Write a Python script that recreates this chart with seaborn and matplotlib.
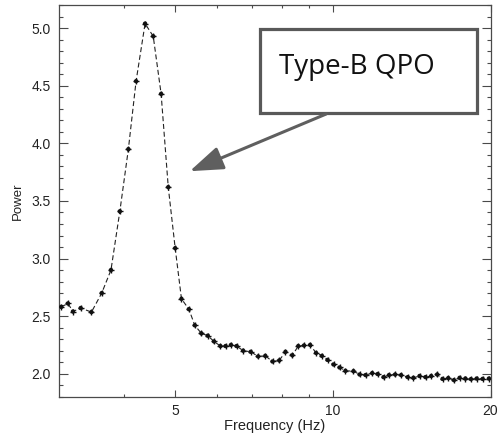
import numpy as np
import pandas as pd
import matplotlib
matplotlib.use("Agg")
import matplotlib.pyplot as plt
from matplotlib.patches import Rectangle
from matplotlib.ticker import FixedLocator, FixedFormatter, MultipleLocator, NullFormatter
import seaborn as sns

freq = [3.03, 3.12, 3.19, 3.30, 3.46, 3.62, 3.77, 3.92, 4.07, 4.21, 4.38, 4.54, 4.70, 4.85,
        5.00, 5.14, 5.31, 5.45, 5.61, 5.77, 5.93, 6.10, 6.24, 6.39, 6.55, 6.74, 6.97, 7.20,
        7.43, 7.67, 7.90, 8.12, 8.37, 8.59, 8.81, 9.05, 9.29, 9.53, 9.77, 10.03, 10.30, 10.57,
        10.95, 11.25, 11.55, 11.89, 12.18, 12.50, 12.80, 13.15, 13.50, 13.90, 14.25, 14.64,
        15.03, 15.41, 15.82, 16.20, 16.61, 17.03, 17.46, 17.91, 18.35, 18.82, 19.32, 19.86]
power = [2.58, 2.61, 2.54, 2.57, 2.535, 2.70, 2.90, 3.41, 3.95, 4.54, 5.04, 4.93, 4.43, 3.62,
         3.09, 2.65, 2.56, 2.42, 2.35, 2.33, 2.28, 2.24, 2.24, 2.25, 2.24, 2.20, 2.19, 2.15,
         2.155, 2.106, 2.115, 2.19, 2.16, 2.24, 2.245, 2.25, 2.18, 2.155, 2.12, 2.08, 2.054, 2.025,
         2.022, 1.993, 1.988, 2.005, 1.997, 1.97, 1.988, 1.993, 1.988, 1.97, 1.964, 1.98,
         1.97, 1.98, 1.993, 1.955, 1.962, 1.944, 1.964, 1.958, 1.953, 1.958, 1.955, 1.958]

x_ticks = [5, 10, 20]
x_tick_labels = ["5", "10", "20"]
x_minor = [4, 6, 7, 8, 9]
annotation_text = "Type-B QPO"

df = pd.DataFrame({"Frequency (Hz)": freq, "Power": power})

sns.set_style("ticks")
plt.rcParams["font.family"] = ["Liberation Sans", "DejaVu Sans"]

fig = plt.figure(figsize=(5, 4.33), dpi=100)
ax = fig.add_axes([0.118, 0.0838, 0.863, 0.9042])

sns.lineplot(data=df, x="Frequency (Hz)", y="Power", ax=ax, color="#222222",
             linewidth=0.8, linestyle=(0, (4.5, 2.5)), sort=False)
ax.plot(df["Frequency (Hz)"], df["Power"], linestyle="none", marker="+",
        markersize=4.5, markeredgewidth=1.0, color="#111111")
sns.scatterplot(data=df, x="Frequency (Hz)", y="Power", ax=ax, s=10,
                color="#111111", edgecolor="none", zorder=5)

ax.set_xscale("log")
ax.set_xlim(3, 20)
ax.set_ylim(1.8, 5.2)
ax.xaxis.set_major_locator(FixedLocator(x_ticks))
ax.xaxis.set_major_formatter(FixedFormatter(x_tick_labels))
ax.xaxis.set_minor_locator(FixedLocator(x_minor))
ax.xaxis.set_minor_formatter(NullFormatter())
ax.yaxis.set_major_locator(MultipleLocator(0.5))
ax.yaxis.set_minor_locator(MultipleLocator(0.1))
ax.yaxis.set_major_formatter(matplotlib.ticker.FormatStrFormatter("%.1f"))

for s in ax.spines.values():
    s.set_color("#4a4a4a")
    s.set_linewidth(0.9)
ax.tick_params(which="both", direction="in", top=True, right=True, color="#4a4a4a",
               width=0.8, labelsize=10, labelcolor="#222222")
ax.tick_params(axis="x", which="major", length=5, pad=5)
ax.tick_params(axis="x", which="minor", length=2.4)
ax.tick_params(axis="y", which="major", length=6.5, pad=6)
ax.tick_params(axis="y", which="minor", length=3.2)
ax.set_xlabel("Frequency (Hz)", fontsize=10.5, labelpad=1, color="#222222")
ax.set_ylabel("Power", fontsize=9.5, labelpad=5, color="#222222")

# annotation box and arrow
ax.add_patch(Rectangle((0.466, 0.724), 0.502, 0.215, transform=ax.transAxes,
                       facecolor="white", edgecolor="#595959", linewidth=2.3, zorder=6))
ax.text(0.51, 0.824, annotation_text, transform=ax.transAxes, fontsize=20,
        family=["Open Sans", "DejaVu Sans"], color="#111111", va="baseline", ha="left", zorder=7)
ax.annotate("", xy=(0.303, 0.576), xycoords="axes fraction",
            xytext=(0.619, 0.722), textcoords="axes fraction",
            arrowprops=dict(arrowstyle="-|>,head_length=1.7,head_width=0.6",
                            color="#5f5f5f", lw=2.2, mutation_scale=12,
                            shrinkA=0, shrinkB=0), zorder=6)

fig.savefig("out.png", dpi=100, facecolor="white")
